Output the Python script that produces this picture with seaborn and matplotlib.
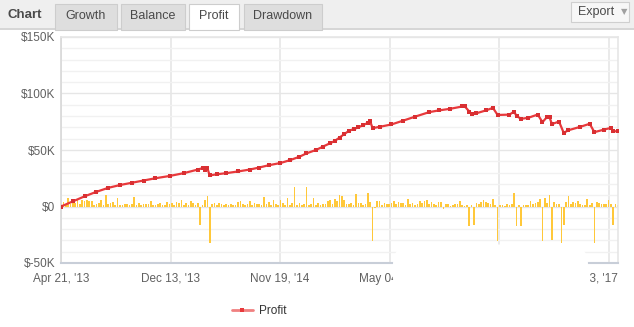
import numpy as np
import pandas as pd
import matplotlib
matplotlib.use("Agg")
import matplotlib.pyplot as plt
import matplotlib.transforms as mtrans
import seaborn as sns
from matplotlib.patches import Rectangle, FancyBboxPatch
from matplotlib.lines import Line2D
from matplotlib.ticker import MultipleLocator
from matplotlib.transforms import IdentityTransform

# ---------------- data (values in $K) ----------------
bar_k = [
    2.5, 3.8, 2.0, 7.5, 2.5, 4.5, 3.0, 5.5, 2.0, 6.0,
    4.5, 5.5, 5.0, 4.5, 1.0, 2.5, 3.5, 5.5, 1.0, 10.6,
    2.0, 3.0, 4.0, 1.5, 7.7, 1.0, 1.5, 2.5, 2.0, 1.0,
    2.5, 8.6, 1.0, 3.0, 1.5, 2.5, 2.0, 2.5, 4.5, 1.5,
    1.0, 2.5, 3.0, 1.0, 1.5, 4.0, 2.5, 3.5, 1.5, 4.0,
    3.0, 5.5, 1.5, 3.0, 1.5, 4.5, 3.5, 1.0, 3.0, -16.0,
    1.0, 5.5, 9.7, -32.7, 2.5, 3.5, 1.0, 3.5, 2.0, 1.5,
    2.5, 1.0, 2.0, 1.5, 1.0, 4.0, 4.5, 2.0, 1.0, 2.5,
    5.0, 1.5, 3.0, 2.0, 2.5, 1.5, 8.6, 2.0, 4.0, 1.0,
    6.0, 2.5, 1.0, 5.5, 3.0, 1.5, 7.5, 1.0, 3.0, 17.4,
    1.0, 3.0, 1.5, 2.0, 17.4, 1.5, 2.5, 7.5, 1.0, 3.5,
    1.5, 2.4, 2.4, 4.7, 5.6, 2.4, 6.2, 5.3, 10.0, 9.7,
    5.6, 1.8, 2.4, 3.2, 0.9, 11.2, 3.0, 2.7, 1.0, 2.5,
    12.0, 4.0, -30.7, -1.0, 4.7, 4.7, 0.9, 3.2, 1.8, 2.4,
    2.7, 4.7, 2.4, 4.0, 2.7, 3.2, 1.5, 6.8, 2.4, 2.7,
    0.9, 2.4, 4.7, 3.2, 5.3, 5.9, 2.4, 4.1, 1.8, 0.9,
    4.1, 4.1, -2.0, 1.8, 2.4, 0.5, 0.9, 2.4, 2.4, 4.7,
    0.9, 0.5, 0.9, -17.4, 0.9, -16.0, 3.2, 2.4, 3.8, 5.6,
    4.1, 3.2, 2.4, 6.8, 0.9, -30.7, 0.9, 0.9, 0.5, 2.4,
    0.9, 2.4, 12.0, -17.4, 1.5, -17.4, 0.9, 0.9, 0.9, 4.7,
    1.8, 3.2, 4.1, 6.8, -30.7, 7.7, 3.2, 10.0, -29.8, 4.1,
    1.8, 2.4, -32.7, -16.0, 4.1, 9.0, 2.4, 4.1, 3.2, 4.7,
    1.8, 0.9, 0.9, 6.8, 0.9, 2.7, -32.7, 4.1, 3.2, 2.4,
    1.8, 1.8, 5.6, 2.4, -16.0, 2.4, 1.0,
]
line_idx = [0, 5, 10, 15, 20, 25, 30, 35, 40, 46,
            52, 58, 60, 61, 62, 63, 66, 70, 75, 80,
            84, 88, 93, 97, 101, 104, 108, 111, 114, 116,
            118, 120, 122, 124, 126, 128, 130, 131, 132, 135,
            140, 145, 150, 156, 160, 165, 170, 171, 173, 174,
            176, 180, 183, 185, 190, 192, 193, 195, 198, 202,
            204, 206, 207, 208, 211, 213, 215, 220, 224, 226,
            230, 233, 234, 236]
line_k = [0, 4.5, 9, 13, 16.5, 19, 21, 23, 25, 27,
          29.5, 32.7, 34, 32.5, 34, 27.5, 28.5, 29.5, 31, 32.7,
          34.5, 36.5, 38.5, 41, 44, 47, 50, 53, 56, 58,
          61, 64, 67, 68.5, 70, 72, 74, 75.5, 69.3, 70.5,
          72.6, 76, 79.5, 83.5, 85, 86.5, 88.5, 88.8, 84, 82,
          82.5, 85, 87.3, 81, 81.3, 84, 80, 77.6, 78.5, 81.4,
          74.6, 79.4, 79, 72.9, 75.2, 65.2, 67.5, 70.5, 73.2, 65.8,
          68, 69.6, 66.4, 66.8]
x_tick_idx = [0, 46.4, 92.8, 139.2, 185.6, 232]
x_tick_labels = ["Apr 21, '13", "Dec 13, '13", "Nov 19, '14",
                 "May 04, '15", "Jan 12, '16", "Mar 3, '17"]
y_ticks = [-50, 0, 50, 100, 150]
y_tick_labels = ["$-50K", "$0", "$50K", "$100K", "$150K"]
tab_labels = ["Growth", "Balance", "Profit", "Drawdown"]
series_name = "Profit"

# ---------------- style ----------------
sns.set_theme(style="white")
plt.rcParams["font.family"] = ["Liberation Sans", "DejaVu Sans"]

W, H = 634, 327
fig = plt.figure(figsize=(W / 100, H / 100), dpi=100)
fig.patch.set_facecolor("white")


def fx(x):
    return x / W


def fy(y):
    return 1 - y / H


# header band
fig.patches.append(Rectangle((0, fy(29)), 1, 29 / H, transform=fig.transFigure,
                             facecolor="#efefef", edgecolor="none", zorder=0))
fig.patches.append(Rectangle((0, fy(29.5)), 1, 1 / H, transform=fig.transFigure,
                             facecolor="#d6d6d6", edgecolor="none", zorder=1))
fig.text(fx(7), fy(15), "Chart", fontsize=9.5, fontweight="bold", color="#4a4a4a",
         va="center", ha="left")
tab_x = [(55, 117), (121, 185), (189, 239), (244, 322)]
for (x0, x1), lab in zip(tab_x, tab_labels):
    sel = lab == "Profit"
    fig.patches.append(Rectangle((fx(x0), fy(30 if sel else 29.5)), fx(x1 - x0),
                                 (26 if sel else 25.5) / H, transform=fig.transFigure,
                                 facecolor="white" if sel else "#dedede",
                                 edgecolor="#cdcdcd", lw=0.8, zorder=2))
    fig.text(fx((x0 + x1) / 2), fy(16), lab, fontsize=9, color="#4a4a4a",
             va="center", ha="center", zorder=3)
fig.patches.append(Rectangle((fx(571), fy(22)), fx(58), 20 / H, transform=fig.transFigure,
                             facecolor="#f7f7f7", edgecolor="#cfcfcf", lw=0.8, zorder=2))
fig.text(fx(596), fy(12), "Export", fontsize=9, color="#4a4a4a", va="center", ha="center")
fig.text(fx(624), fy(12), "▼", fontsize=6, color="#a0a0a0", va="center", ha="center",
         family=["DejaVu Sans"])

# ---------------- chart ----------------
ax = fig.add_axes([fx(61), fy(263), fx(557), 226 / H])
ax.set_facecolor("white")

df_bar = pd.DataFrame({"idx": np.arange(len(bar_k)), "profit": bar_k})
sns.barplot(data=df_bar, x="idx", y="profit", native_scale=True, color="#ffc83a",
            saturation=1, width=0.7, errorbar=None, linewidth=0, ax=ax, zorder=2)
df_line = pd.DataFrame({"idx": line_idx, "profit": line_k})
sns.lineplot(data=df_line, x="idx", y="profit", color="#e8393c", lw=1.6,
             marker="s", markersize=2.6, markeredgewidth=0,
             markerfacecolor="#d92f32", ax=ax, zorder=3)

ax.set_xlim(0, len(bar_k) - 1)
ax.set_ylim(-50, 150)
ax.set_yticks(y_ticks)
ax.set_yticklabels(y_tick_labels)
ax.yaxis.set_minor_locator(MultipleLocator(10))
ax.set_xticks(x_tick_idx)
ax.set_xticklabels(x_tick_labels)
ax.set_xlabel("")
ax.set_ylabel("")
ax.tick_params(axis="both", which="both", length=0)
ax.tick_params(axis="y", labelsize=8.5, labelcolor="#606060", pad=4)
ax.tick_params(axis="x", labelsize=8.5, labelcolor="#606060", pad=7)
xt = ax.get_xticklabels()
xt[-1].set_horizontalalignment("right")
xt[-1].set_transform(xt[-1].get_transform()
                     + mtrans.ScaledTranslation(9 / 100, 0, fig.dpi_scale_trans))
ax.grid(which="minor", axis="y", color="#f1f1f1", lw=1, zorder=0)
ax.grid(which="major", axis="y", color="#e6e6e6", lw=1, zorder=0)
ax.grid(which="major", axis="x", color="#e6e6e6", lw=1.2, zorder=0)
ax.set_axisbelow(True)
for s in ["top", "right"]:
    ax.spines[s].set_color("#e6e6e6")
    ax.spines[s].set_linewidth(1.2)
ax.spines["left"].set_color("#d8d8d8")
ax.spines["left"].set_linewidth(1.2)
ax.spines["bottom"].set_color("#c8ced8")
ax.spines["bottom"].set_linewidth(1.5)
if ax.get_legend():
    ax.get_legend().remove()

# legend
handle = Line2D([], [], color="#f08080", lw=2, marker="s", markersize=2.5,
                markerfacecolor="#e8393c", markeredgewidth=0)
fig.legend([handle], [series_name], loc="center", bbox_to_anchor=(fx(259), fy(311)),
           frameon=False, fontsize=8.5, handlelength=1.8, handletextpad=0.5,
           labelcolor="#333333")

# white overlay covering part of the x-axis area
cover = FancyBboxPatch((393, H - 298), 195, 298 - 244.5,
                       boxstyle="round,pad=0,rounding_size=20",
                       transform=IdentityTransform(), facecolor="white",
                       edgecolor="none", zorder=10)
fig.patches.append(cover)

fig.savefig("out.png", dpi=100, facecolor="white")
